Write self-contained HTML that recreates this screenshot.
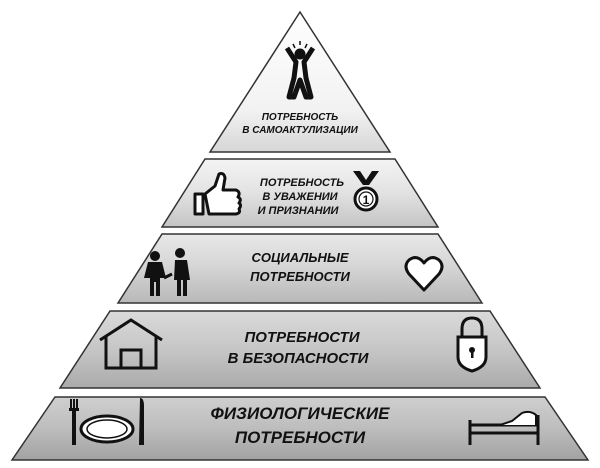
<!DOCTYPE html>
<html><head><meta charset="utf-8"><style>
html,body{margin:0;padding:0;background:#fff;width:600px;height:468px;overflow:hidden}
text{font-family:"Liberation Sans",sans-serif;font-weight:bold;font-style:italic;fill:#111;text-anchor:middle}
</style></head><body>
<svg width="600" height="468" viewBox="0 0 600 468" xmlns="http://www.w3.org/2000/svg">
<defs>
<linearGradient id="g1" x1="0" y1="0" x2="0" y2="1"><stop offset="0" stop-color="#ffffff"/><stop offset="0.7" stop-color="#f2f2f2"/><stop offset="1" stop-color="#d6d6d6"/></linearGradient>
<linearGradient id="g2" x1="0" y1="0" x2="0" y2="1"><stop offset="0" stop-color="#f4f4f4"/><stop offset="0.5" stop-color="#e2e2e2"/><stop offset="1" stop-color="#c4c4c4"/></linearGradient>
<linearGradient id="g3" x1="0" y1="0" x2="0" y2="1"><stop offset="0" stop-color="#e8e8e8"/><stop offset="0.5" stop-color="#d4d4d4"/><stop offset="1" stop-color="#b8b8b8"/></linearGradient>
<linearGradient id="g4" x1="0" y1="0" x2="0" y2="1"><stop offset="0" stop-color="#dadada"/><stop offset="0.5" stop-color="#c6c6c6"/><stop offset="1" stop-color="#aaaaaa"/></linearGradient>
<linearGradient id="g5" x1="0" y1="0" x2="0" y2="1"><stop offset="0" stop-color="#cfcfcf"/><stop offset="0.5" stop-color="#bdbdbd"/><stop offset="1" stop-color="#a2a2a2"/></linearGradient>
</defs>
<g stroke="#333" stroke-width="1.5">
<polygon points="300,12 210,152 390,152" fill="url(#g1)"/>
<polygon points="205,159 395,159 438,227 162,227" fill="url(#g2)"/>
<polygon points="162,234 438,234 482,303 118,303" fill="url(#g3)"/>
<polygon points="110,311 490,311 540,388 60,388" fill="url(#g4)"/>
<polygon points="55,397 545,397 588,460 12,460" fill="url(#g5)"/>
</g>
<text font-size="10"><tspan x="300" y="120">ПОТРЕБНОСТЬ</tspan><tspan x="300" y="133">В САМОАКТУЛИЗАЦИИ</tspan></text>
<text font-size="11"><tspan x="302" y="186">ПОТРЕБНОСТЬ</tspan><tspan x="300" y="200">В УВАЖЕНИИ</tspan><tspan x="298" y="214">И ПРИЗНАНИИ</tspan></text>
<text font-size="13"><tspan x="300" y="262">СОЦИАЛЬНЫЕ</tspan><tspan x="300" y="281">ПОТРЕБНОСТИ</tspan></text>
<text font-size="15"><tspan x="302" y="342">ПОТРЕБНОСТИ</tspan><tspan x="298" y="363">В БЕЗОПАСНОСТИ</tspan></text>
<text font-size="17"><tspan x="300" y="419">ФИЗИОЛОГИЧЕСКИЕ</tspan><tspan x="300" y="443">ПОТРЕБНОСТИ</tspan></text>
<!-- person jumping -->
<g fill="#111" stroke="#111">
<circle cx="300" cy="54" r="5"/>
<path d="M287 48 L296 62 L294 78 L289 97 L294 97 L300 80 L306 97 L311 97 L306 78 L304 62 L313 48" stroke-width="5" fill="none" stroke-linejoin="round"/>
<path d="M293 44 l2 4 M300 41 v4 M307 44 l-2 4" stroke-width="1.5"/>
</g>
<!-- thumb -->
<path d="M195 194 h8 v20 h-8 z M205 194 l10 -8 l4 -12 q5 -2 6 4 l-2 12 h13 q5 2 2 7 q4 2 1 6 q3 2 0 6 q2 4 -3 5 h-27 z" fill="#fff" stroke="#111" stroke-width="3" stroke-linejoin="round"/>
<!-- medal -->
<path d="M353 171 l10 14 h6 l10 -14 h-7 l-6 9 l-6 -9z" fill="#111"/>
<circle cx="366" cy="199" r="11" fill="#fff" stroke="#111" stroke-width="3"/>
<circle cx="366" cy="199" r="7" fill="#fff" stroke="#111" stroke-width="1.2"/>
<text x="366" y="204" font-size="12" style="font-style:normal">1</text>
<!-- couple -->
<g fill="#111">
<circle cx="155" cy="256" r="5"/><path d="M148 262 h14 l4 16 h-6 v18 h-4 v-14 h-2 v14 h-4 v-18 h-6 z"/>
<circle cx="180" cy="253" r="5"/><path d="M173 260 h14 l3 20 h-3 v16 h-4 v-16 h-2 v16 h-4 v-16 h-3 l1 -20 z"/>
<path d="M164 278 l8 -4" stroke="#111" stroke-width="3"/>
</g>
<!-- heart -->
<path d="M424 290 l-15 -16 q-6 -8 0 -14 q8 -6 15 3 q7 -9 15 -3 q6 6 0 14 z" fill="#fff" stroke="#111" stroke-width="3" stroke-linejoin="round"/>
<!-- house -->
<path d="M100 340 l31 -20 l31 20 M106 337 v31 h50 v-31 M121 368 v-18 h20 v18" fill="none" stroke="#111" stroke-width="3"/>
<!-- lock -->
<path d="M462 337 v-8 q0 -11 10 -11 q10 0 10 11 v8" fill="none" stroke="#111" stroke-width="3"/>
<path d="M458 337 h28 v20 q0 10 -14 14 q-14 -4 -14 -14 z" fill="#fff" stroke="#111" stroke-width="3"/>
<circle cx="472" cy="350" r="3" fill="#111"/><rect x="471" y="351" width="2.5" height="7" fill="#111"/>
<!-- fork plate knife -->
<g fill="#111">
<rect x="70" y="399" width="2" height="10"/><rect x="73" y="399" width="2" height="10"/><rect x="76" y="399" width="2" height="10"/>
<rect x="69" y="408" width="10" height="3"/><rect x="72" y="410" width="4" height="35"/>
<path d="M140 398 q4 0 4 8 v39 h-5 z"/>
</g>
<ellipse cx="107" cy="429" rx="26" ry="13" fill="#fff" stroke="#111" stroke-width="3"/>
<ellipse cx="107" cy="429" rx="20" ry="9" fill="#fff" stroke="#111" stroke-width="1.5"/>
<!-- bed -->
<path d="M470 420 v25 M470 433 h68 M538 415 v30 M470 425 h68" fill="none" stroke="#111" stroke-width="3"/>
<path d="M500 425 l12 -4 l10 -8 q8 -3 14 2 v10" fill="#fff" stroke="#111" stroke-width="2"/>
</svg>
</body></html>
